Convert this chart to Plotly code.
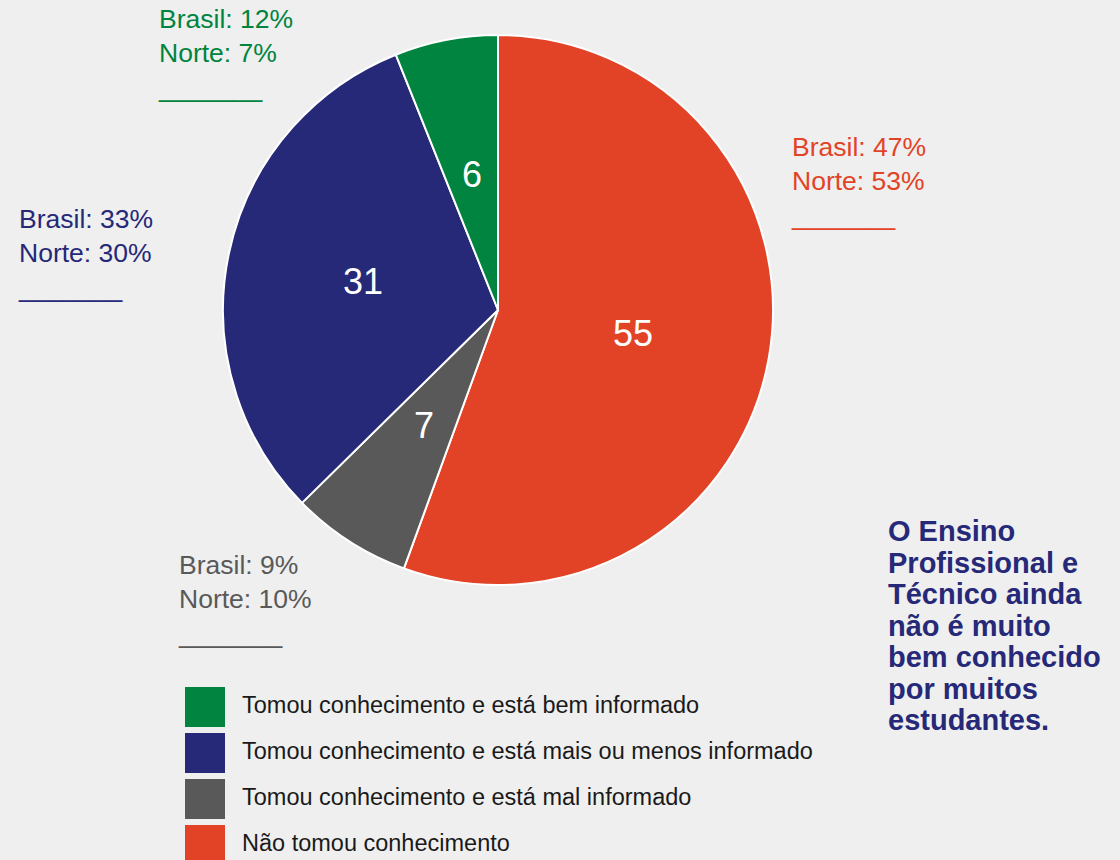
import math
import plotly.graph_objects as go

# ---- data ----
categories = [
    "Tomou conhecimento e está bem informado",
    "Tomou conhecimento e está mais ou menos informado",
    "Tomou conhecimento e está mal informado",
    "Não tomou conhecimento",
]
norte_values = [6, 31, 7, 55]
brasil_pct = [12, 33, 9, 47]
norte_pct = [7, 30, 10, 53]
colors = ["#00843f", "#262878", "#595959", "#e24326"]
message_lines = ["O Ensino", "Profissional e", "Técnico ainda", "não é muito",
                 "bem conhecido", "por muitos", "estudantes."]

W, H = 1120, 860
BG = "#efefef"
FONT = "Arial, Liberation Sans, sans-serif"
def px(x):
    return x / W
def py(y):
    return 1 - y / H

fig = go.Figure()
cx, cy, r = 498, 310, 275
# pie drawn clockwise from 12 o'clock, starting with the last category
pie_labels = categories[::-1]
pie_values = norte_values[::-1]
pie_colors = colors[::-1]
fig.add_trace(go.Pie(
    labels=pie_labels,
    values=pie_values,
    textinfo="none",
    marker=dict(colors=pie_colors, line=dict(color="white", width=2)),
    sort=False,
    direction="clockwise",
    rotation=0,
    showlegend=False,
    hoverinfo="label+value",
    domain=dict(x=[px(cx - r), px(cx + r)], y=[py(cy + r), py(cy - r)]),
))

annotations = []
# slice values placed at half radius on each slice's mid angle
total = sum(pie_values)
cum = 0
for v in pie_values:
    mid = (cum + v / 2) / total * 2 * math.pi
    cum += v
    tx = cx + 0.5 * r * math.sin(mid)
    ty = cy - 0.5 * r * math.cos(mid)
    annotations.append(dict(
        x=px(tx), y=py(ty), xref="paper", yref="paper",
        xanchor="center", yanchor="middle", showarrow=False, text=str(v),
        font=dict(family=FONT, size=36, color="white"),
    ))

# group labels (Brasil / Norte) positions in pixels (left x, middle y)
label_pos = [(156, 54), (16, 254), (176, 599), (789, 182)]
for (lx, ly), b, n, c in zip(label_pos, brasil_pct, norte_pct, colors):
    annotations.append(dict(
        x=px(lx), y=py(ly), xref="paper", yref="paper",
        xanchor="left", yanchor="middle", align="left", showarrow=False,
        text=f"Brasil: {b}%<br>Norte: {n}%<br>_______",
        font=dict(family=FONT, size=26.5, color=c),
    ))

# custom legend
shapes = []
for i, (cat, c) in enumerate(zip(categories, colors)):
    top = 687 + 46 * i
    shapes.append(dict(type="rect", xref="paper", yref="paper",
                       x0=px(185), x1=px(225), y0=py(top + 40), y1=py(top),
                       fillcolor=c, line=dict(width=0)))
    annotations.append(dict(
        x=px(240), y=py(top + 18), xref="paper", yref="paper",
        xanchor="left", yanchor="middle", showarrow=False, text=cat,
        font=dict(family=FONT, size=23.5, color="#1a1a1a"),
    ))

# message on the right
for i, line in enumerate(message_lines):
    annotations.append(dict(
        x=px(886), y=py(531 + 31.5 * i), xref="paper", yref="paper",
        xanchor="left", yanchor="middle", showarrow=False, text=line,
        font=dict(family=FONT, size=29, color="#262878", weight="bold"),
    ))

fig.update_layout(
    width=W, height=H,
    margin=dict(l=0, r=0, t=0, b=0),
    paper_bgcolor=BG,
    plot_bgcolor=BG,
    annotations=annotations,
    shapes=shapes,
)

fig.write_html(
    "out.html",
    config={"displayModeBar": False},
    post_script=f"document.body.style.margin='0';document.body.style.background='{BG}';",
)
